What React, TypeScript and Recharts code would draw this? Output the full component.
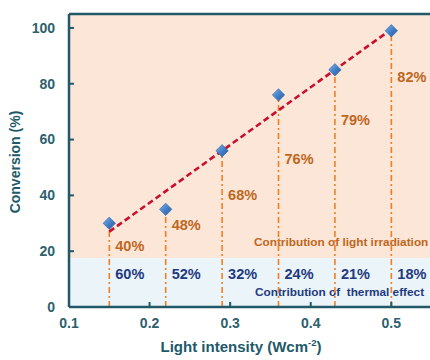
import React from 'react';
import {
  ComposedChart,
  Scatter,
  XAxis,
  YAxis,
  ReferenceArea,
  ReferenceLine,
} from 'recharts';

// light intensity (W cm-2) and measured conversion (%)
const intensity = [0.15, 0.22, 0.29, 0.36, 0.43, 0.5];
const conversion = [30, 35, 56, 76, 85, 99];
// share of conversion from light vs. heat
const lightShare = ['40%', '48%', '68%', '76%', '79%', '82%'];
const thermalShare = ['60%', '52%', '32%', '24%', '21%', '18%'];
// where the share labels sit (conversion units)
const lightLabelAt = [22, 29.5, 40, 53, 67, 82.5];
const thermalLabelAt = 12;
// linear fit end points
const fitX = [0.15, 0.5];
const fitY = [27, 99.5];
const thermalTop = 17.5;

const xTicks = [0.1, 0.2, 0.3, 0.4, 0.5];
const yTicks = [0, 20, 40, 60, 80, 100];

const AXIS = '#215968';
const TICK_TEXT = '#2D5F6E';
const ORANGE_TEXT = '#BF6620';
const NAVY = '#1F3A80';
const FONT = 'Arial, "Liberation Sans", sans-serif';

const points = intensity.map((x, i) => ({ x, y: conversion[i] }));
const fit = fitX.map((x, i) => ({ x, y: fitY[i] }));
const lightLabels = intensity.map((x, i) => ({ x, y: lightLabelAt[i], text: lightShare[i] }));
const thermalLabels = intensity.map((x, i) => ({ x, y: thermalLabelAt, text: thermalShare[i] }));

const XTick = (props: any) => {
  const { x, y, payload } = props;
  return (
    <g>
      {payload.value > 0.1 && <line x1={x} y1={y} x2={x} y2={y - 5} stroke={AXIS} strokeWidth={2} />}
      <text x={x} y={y + 21} textAnchor="middle" fill={TICK_TEXT} fontSize={14} fontWeight="bold" fontFamily={FONT}>
        {payload.value.toFixed(1)}
      </text>
    </g>
  );
};

const YTick = (props: any) => {
  const { x, y, payload } = props;
  return (
    <g>
      {payload.value > 0 && <line x1={x} y1={y} x2={x + 5} y2={y} stroke={AXIS} strokeWidth={2} />}
      <text x={x - 14} y={y} dy="0.35em" textAnchor="end" fill={TICK_TEXT} fontSize={14} fontWeight="bold" fontFamily={FONT}>
        {payload.value}
      </text>
    </g>
  );
};

const Diamond = (props: any) => {
  const { cx, cy } = props;
  const r = 6.2;
  return (
    <polygon
      points={`${cx},${cy - r} ${cx + r},${cy} ${cx},${cy + r} ${cx - r},${cy}`}
      fill="url(#diamondFill)"
      stroke="#2F62A3"
      strokeWidth={0.6}
    />
  );
};

const makeText = (color: string) => (props: any) => {
  const { cx, cy, payload } = props;
  return (
    <text x={cx + 6} y={cy} dy="0.35em" fill={color} fontSize={14.5} fontWeight="bold" fontFamily={FONT}>
      {payload.text}
    </text>
  );
};

const BandLabels = (props: any) => {
  const { x, y } = props.viewBox;
  return (
    <g fontFamily={FONT} fontWeight="bold" fontSize={11.8}>
      <text x={x + 185} y={y - 16} dy="0.35em" fill={ORANGE_TEXT}>
        Contribution of light irradiation
      </text>
      <text x={x + 186} y={y + 34} dy="0.35em" fill={NAVY} style={{ whiteSpace: 'pre' }}>
        Contribution of  thermal effect
      </text>
    </g>
  );
};

const XTitle = () => (
  <text x={241} y={352} textAnchor="middle" fill={AXIS} fontSize={15} fontWeight="bold" fontFamily={FONT}>
    Light intensity (Wcm
    <tspan fontSize={9.5} dy={-6}>-2</tspan>
    <tspan dy={6}>)</tspan>
  </text>
);

const YTitle = () => (
  <text
    x={15}
    y={162}
    transform="rotate(-90 15 162)"
    textAnchor="middle"
    dy="0.35em"
    fill={AXIS}
    fontSize={14}
    fontWeight="bold"
    fontFamily={FONT}
  >
    Conversion (%)
  </text>
);

export default function App() {
  return (
    <div style={{ position: 'absolute', left: 0, top: 0, width: 430, height: 360, background: '#fff' }}>
      <ComposedChart width={430} height={360} margin={{ top: 14, right: 0, bottom: 0, left: 0 }}>
        <defs>
          <linearGradient id="diamondFill" x1="0" y1="0" x2="1" y2="1">
            <stop offset="0%" stopColor="#7FB2E5" />
            <stop offset="55%" stopColor="#3E7CC6" />
            <stop offset="100%" stopColor="#2A5C9E" />
          </linearGradient>
        </defs>
        <XAxis
          type="number"
          dataKey="x"
          domain={[0.1, 0.548]}
          ticks={xTicks}
          allowDataOverflow
          height={53}
          tickSize={0}
          tickMargin={0}
          tickLine={false}
          tick={<XTick />}
          axisLine={{ stroke: AXIS, strokeWidth: 2.5 }}
          label={{ content: XTitle }}
        />
        <YAxis
          type="number"
          dataKey="y"
          domain={[0, 105]}
          ticks={yTicks}
          allowDataOverflow
          width={69}
          tickSize={0}
          tickMargin={0}
          tickLine={false}
          tick={<YTick />}
          axisLine={{ stroke: AXIS, strokeWidth: 2.5 }}
          label={{ content: YTitle }}
        />
        <ReferenceArea y1={thermalTop} y2={105} fill="#FCE6D8" fillOpacity={1} stroke="none" />
        <ReferenceArea
          y1={0}
          y2={thermalTop}
          fill="#EAF4F9"
          fillOpacity={1}
          stroke="none"
          label={{ content: BandLabels }}
        />
        <ReferenceLine y={105} stroke={AXIS} strokeWidth={2.5} />
        {points.map((p) => (
          <ReferenceLine
            key={p.x}
            segment={[{ x: p.x, y: 0 }, { x: p.x, y: p.y }]}
            stroke="#F27F22"
            strokeWidth={1.6}
            strokeDasharray="6 3 2 3"
          />
        ))}
        <Scatter
          data={fit}
          line={{ stroke: '#C8102E', strokeWidth: 2.6, strokeDasharray: '6 3.5' }}
          shape={() => <g />}
          isAnimationActive={false}
        />
        <Scatter data={points} shape={<Diamond />} isAnimationActive={false} />
        <Scatter data={lightLabels} shape={makeText(ORANGE_TEXT)} isAnimationActive={false} />
        <Scatter data={thermalLabels} shape={makeText(NAVY)} isAnimationActive={false} />
      </ComposedChart>
    </div>
  );
}
